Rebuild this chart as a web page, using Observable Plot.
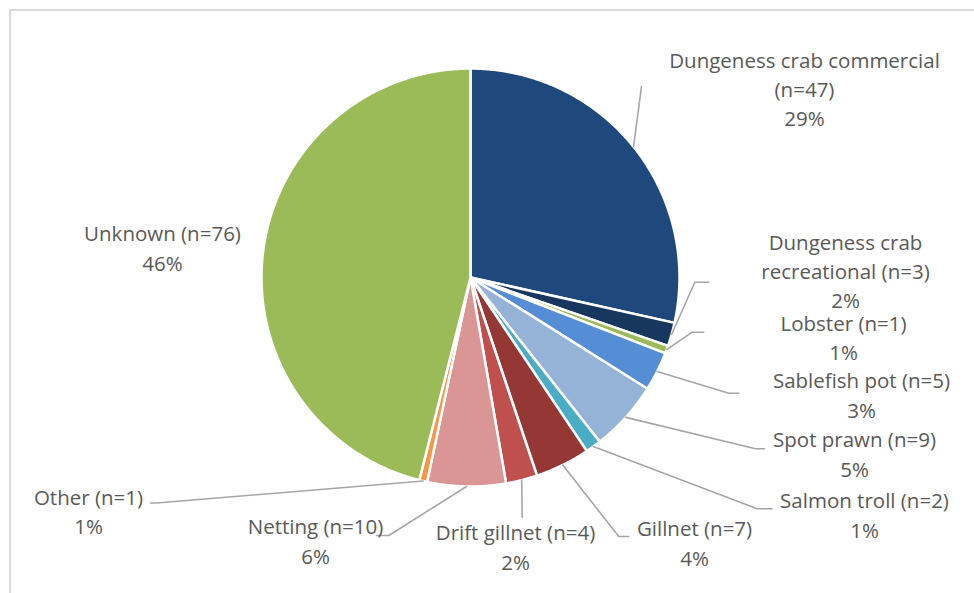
<!DOCTYPE html>
<html>
<head>
<meta charset="utf-8">
<script src="https://cdn.jsdelivr.net/npm/d3@7"></script>
<script src="https://cdn.jsdelivr.net/npm/@observablehq/plot@0.6"></script>
<style>
  body { margin: 0; background: #fff; }
  #wrap { position: relative; width: 974px; height: 593px; overflow: hidden; }
  #wrap svg { position: absolute; left: 0; top: 0; }
  #frame { position: absolute; left: 9px; top: 9px; width: 1000px; height: 620px;
           border-top: 2px solid #d9d9d9; border-left: 2px solid #d9d9d9; pointer-events: none; }
</style>
</head>
<body>
<div id="wrap"></div>
<script>
// ---- data ----
const categories = [
  "Dungeness crab commercial", "Dungeness crab recreational", "Lobster", "Sablefish pot",
  "Spot prawn", "Salmon troll", "Gillnet", "Drift gillnet", "Netting", "Other", "Unknown"
];
const counts = [47, 3, 1, 5, 9, 2, 7, 4, 10, 1, 76];
const percentLabels = ["29%", "2%", "1%", "3%", "5%", "1%", "4%", "2%", "6%", "1%", "46%"];
const colors = [
  "#1f497d", "#17375e", "#9bbb59", "#558ed5", "#95b3d7", "#4bacc6",
  "#953735", "#c0504d", "#d99694", "#f79646", "#9bbb59"
];
// label line-break overrides (text content)
const labelBreaks = {
  "Dungeness crab commercial": "Dungeness crab commercial\n",
  "Dungeness crab recreational": "Dungeness crab\nrecreational"
};

// ---- layout (pixel space) ----
const cx = 470, cy = 277, R = 209;
const labelPos = [
  [804, 87], [845, 269], [843, 335.5], [861, 393], [854, 452], [864, 513],
  [694, 541], [515, 545], [315, 539], [88, 509.5], [162, 246]
];
const leaderBends = [
  [[641, 86]],
  [[694.3, 281.7], [708.3, 281.7]],
  [[691.7, 331.7], [703.3, 331.7]],
  [[728.3, 392.7], [738.3, 392.7]],
  [[755, 448.3], [764, 448.3]],
  [[756.7, 508.3], [771.7, 508.3]],
  [[618.3, 536], [628.3, 536]],
  [[521.7, 516.7]],
  [[388.3, 535], [376, 535]],
  [[156, 502.5], [150, 502.5]],
  null
];

// ---- build ----
const arcs = d3.pie().sort(null).value(d => d)(counts);

const slicePts = [];
const leaderPts = [];
const labelData = [];
arcs.forEach((a, i) => {
  const cat = categories[i];
  const steps = Math.max(2, Math.ceil((a.endAngle - a.startAngle) / (Math.PI / 360)));
  slicePts.push({cat, x: cx, y: cy});
  for (let k = 0; k <= steps; k++) {
    const t = a.startAngle + (a.endAngle - a.startAngle) * k / steps;
    slicePts.push({cat, x: cx + R * Math.sin(t), y: cy - R * Math.cos(t)});
  }
  slicePts.push({cat, x: cx, y: cy});

  const mid = (a.startAngle + a.endAngle) / 2;
  if (leaderBends[i]) {
    leaderPts.push({cat, x: cx + R * Math.sin(mid), y: cy - R * Math.cos(mid)});
    leaderBends[i].forEach(([x, y]) => leaderPts.push({cat, x, y}));
  }

  const name = labelBreaks[cat] || cat;
  const text = (name + " (n=" + counts[i] + ")").split("\n").map(s => s.trim()).join("\n") + "\n" + percentLabels[i];
  labelData.push({cat, x: labelPos[i][0], y: labelPos[i][1], text});
});

const chart = Plot.plot({
  width: 974,
  height: 593,
  margin: 0,
  x: {domain: [0, 974], range: [0, 974], axis: null},
  y: {domain: [0, 593], range: [0, 593], axis: null},
  color: {domain: categories, range: colors},
  style: {background: "transparent"},
  marks: [
    Plot.line(slicePts, {x: "x", y: "y", z: "cat", fill: "cat", stroke: "white", strokeWidth: 2.5}),
    Plot.line(leaderPts, {x: "x", y: "y", z: "cat", stroke: "#a6a6a6", strokeWidth: 1.6}),
    Plot.text(labelData, {
      x: "x", y: "y", text: "text", fontSize: 20.5, lineHeight: 1.43,
      fill: "#595959", fontFamily: "Open Sans"
    })
  ]
});
const wrap = document.getElementById("wrap");
wrap.appendChild(chart);
const frame = document.createElement("div");
frame.id = "frame";
wrap.appendChild(frame);
</script>
</body>
</html>
